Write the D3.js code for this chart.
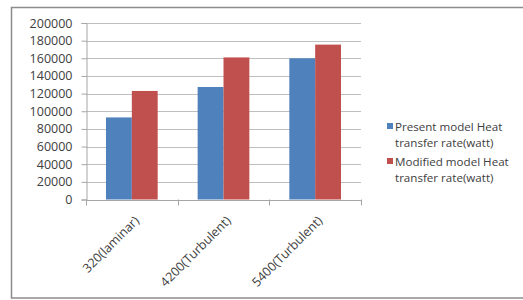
<!DOCTYPE html>
<meta charset="utf-8">
<script src="https://d3js.org/d3.v7.min.js"></script>
<style>
  body { margin: 0; background: #fff; }
  text { font-family: "Open Sans", sans-serif; fill: #404040; }
</style>
<div id="chart"></div>
<script>

// data
const categories = ["320(laminar)", "4200(Turbulent)", "5400(Turbulent)"];
const seriesNames = ["Present model Heat transfer rate(watt)", "Modified model Heat transfer rate(watt)"];
const presentValues = [93000, 127500, 160000];
const modifiedValues = [123000, 161000, 175500];
const yTicks = [0, 20000, 40000, 60000, 80000, 100000, 120000, 140000, 160000, 180000, 200000];
const colors = ["#4F81BD", "#C0504D"];

const W = 523, H = 300;
const margin = {top: 23, left: 86},
    width = 275,
    height = 176.5;

const svg = d3.select("#chart").append("svg")
    .attr("width", W)
    .attr("height", H);

// outer chart frame (partially cropped in the reference)
svg.append("rect")
    .attr("x", 11.5).attr("y", 7.5)
    .attr("width", 540).attr("height", 290.5)
    .attr("fill", "none")
    .attr("stroke", "#8c8c8c")
    .attr("stroke-width", 1.5);

const g = svg.append("g")
    .attr("transform", `translate(${margin.left},${margin.top})`);

const x0 = d3.scaleBand()
    .domain(categories)
    .range([0, width])
    .paddingInner(0)
    .paddingOuter(0);

const x1 = d3.scaleBand()
    .domain([0, 1])
    .range([x0.bandwidth() * 0.218, x0.bandwidth() * 0.782]);

const y = d3.scaleLinear()
    .domain([0, 200000])
    .range([height, 0]);

// gridlines
g.append("g")
  .selectAll("line")
  .data(yTicks)
  .join("line")
    .attr("x1", 0).attr("x2", width)
    .attr("y1", d => Math.round(y(d)) + 0.5)
    .attr("y2", d => Math.round(y(d)) + 0.5)
    .attr("stroke", "#bfbfbf");

// y axis
const yAxis = g.append("g")
    .attr("transform", "translate(0.5,0)")
    .call(d3.axisLeft(y).tickValues(yTicks).tickSize(5).tickPadding(9).tickFormat(d3.format("d")));
yAxis.select(".domain").attr("stroke", "#a6a6a6");
yAxis.selectAll(".tick line").attr("stroke", "#a6a6a6");
yAxis.selectAll("text").attr("font-size", 12.5).attr("fill", "#404040");

// bars
const rows = categories.map((c, i) => ({cat: c, vals: [presentValues[i], modifiedValues[i]]}));
g.append("g")
  .selectAll("g")
  .data(rows)
  .join("g")
    .attr("transform", d => `translate(${x0(d.cat)},0)`)
  .selectAll("rect")
  .data(d => d.vals.map((v, k) => ({k, v})))
  .join("rect")
    .attr("x", d => x1(d.k))
    .attr("width", x1.bandwidth())
    .attr("y", d => y(d.v))
    .attr("height", d => y(0) - y(d.v))
    .attr("fill", d => colors[d.k]);

// x axis
const xAxis = g.append("g")
    .attr("transform", `translate(0,${height + 0.5})`)
    .call(d3.axisBottom(x0).tickSize(0).tickFormat(""));
xAxis.select(".domain").attr("stroke", "#a6a6a6");

// category separator ticks
g.append("g")
  .selectAll("line")
  .data(d3.range(categories.length + 1))
  .join("line")
    .attr("x1", i => Math.round(i * x0.step()) + 0.5)
    .attr("x2", i => Math.round(i * x0.step()) + 0.5)
    .attr("y1", height)
    .attr("y2", height + 6)
    .attr("stroke", "#a6a6a6");

// rotated category labels
g.append("g")
  .selectAll("text")
  .data(categories)
  .join("text")
    .attr("transform", d => `translate(${x0(d) + x0.bandwidth() / 2 + 8},${height + 22}) rotate(-45)`)
    .attr("text-anchor", "end")
    .attr("font-size", 12.5)
    .text(d => d);

// legend
const legend = svg.append("g").attr("transform", "translate(387,0)");
const legendY = [131, 166];
seriesNames.forEach((name, i) => {
  legend.append("rect")
      .attr("x", 0).attr("y", legendY[i] - 8)
      .attr("width", 6).attr("height", 6)
      .attr("fill", colors[i]);
  const words = name.split(" ");
  const lines = [words.slice(0, 3).join(" "), words.slice(3).join(" ")];
  lines.forEach((line, j) => {
    legend.append("text")
        .attr("x", 8)
        .attr("y", legendY[i] + j * 16)
        .attr("font-size", 11.6)
        .text(line);
  });
});

</script>
